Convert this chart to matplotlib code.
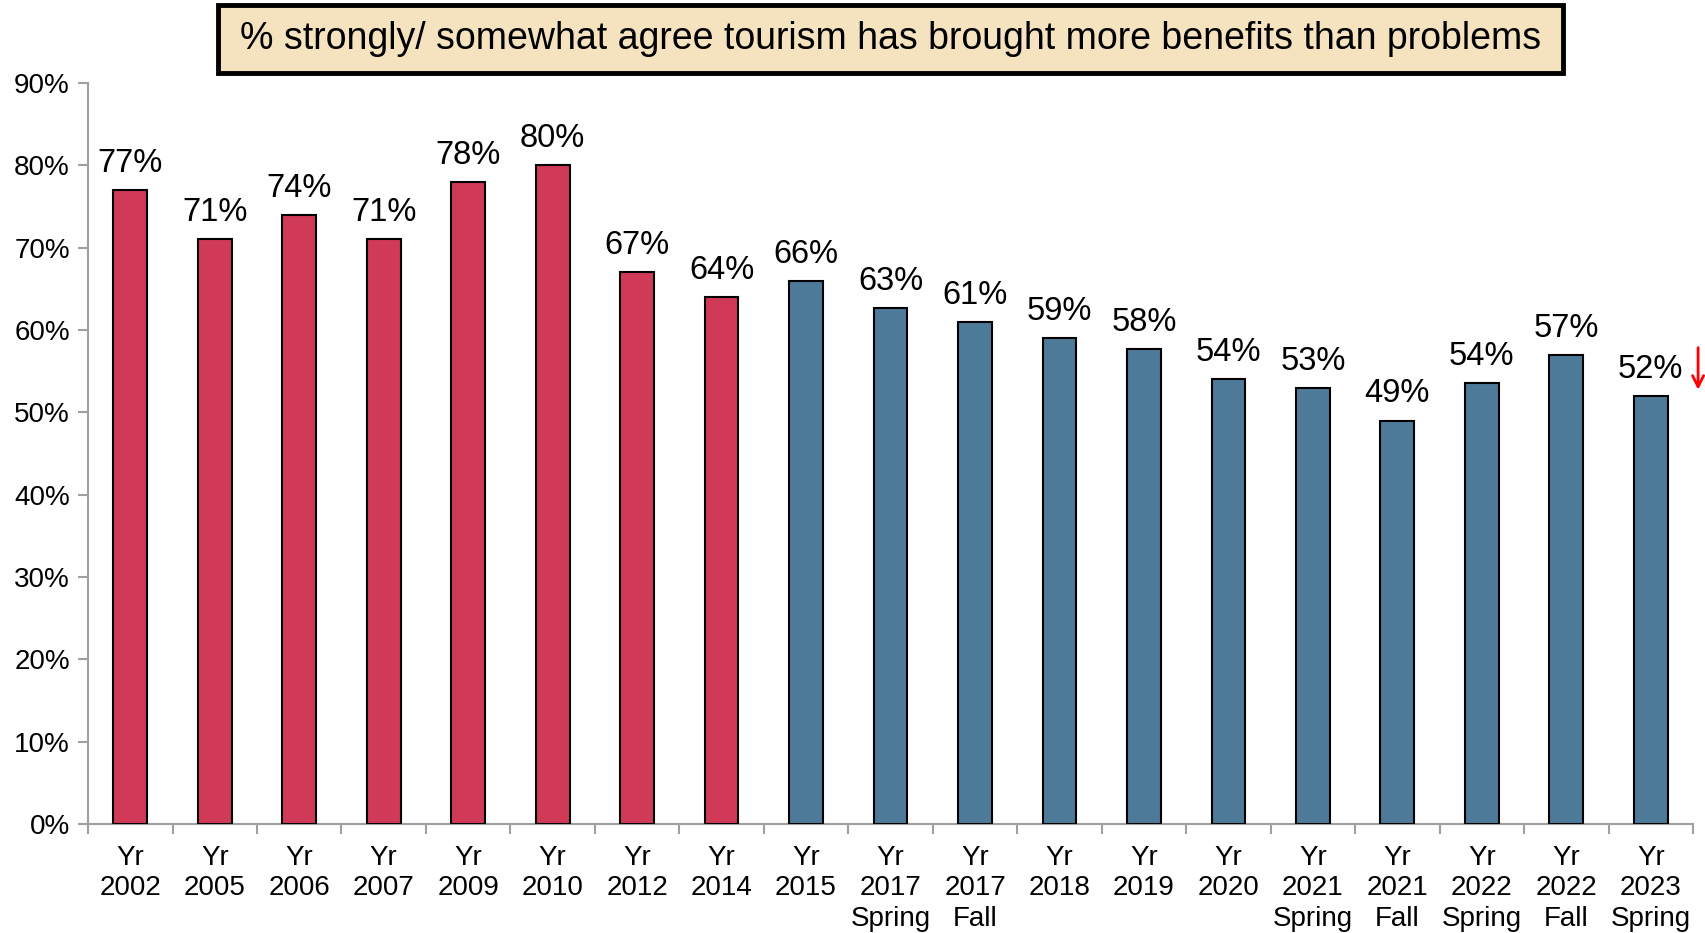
import numpy as np
import matplotlib as mpl
import matplotlib.pyplot as plt
from matplotlib.ticker import FuncFormatter, FixedLocator
from matplotlib.patches import Rectangle

mpl.use('Agg')
mpl.rcParams['font.family'] = ['Liberation Sans', 'DejaVu Sans']

# survey waves, bar heights (%) and printed labels
periods = ['Yr\n2002', 'Yr\n2005', 'Yr\n2006', 'Yr\n2007', 'Yr\n2009', 'Yr\n2010', 'Yr\n2012',
           'Yr\n2014', 'Yr\n2015', 'Yr\n2017\nSpring', 'Yr\n2017\nFall', 'Yr\n2018', 'Yr\n2019',
           'Yr\n2020', 'Yr\n2021\nSpring', 'Yr\n2021\nFall', 'Yr\n2022\nSpring', 'Yr\n2022\nFall',
           'Yr\n2023\nSpring']
values = [77, 71, 74, 71, 78, 80, 67, 64, 66, 62.7, 61, 59, 57.7, 54, 53, 49, 53.6, 57, 52]
labels = ['77%', '71%', '74%', '71%', '78%', '80%', '67%', '64%', '66%', '63%', '61%', '59%',
          '58%', '54%', '53%', '49%', '54%', '57%', '52%']
n_early = 8  # first waves drawn in red

RED = '#D03A56'
BLUE = '#4D7A99'
GREY = '#A0A0A0'

title = '% strongly/ somewhat agree tourism has brought more benefits than problems'


def pct(x, pos):
    return '{:.0f}%'.format(x)


def main():
    fig = plt.figure(figsize=(17.06, 9.33), dpi=100)
    ax = fig.add_axes([0.0516, 0.1168, 0.9408, 0.7942])

    x = np.arange(len(values))
    colors = [RED if i < n_early else BLUE for i in range(len(values))]
    ax.bar(x, values, width=0.4, color=colors, edgecolor='black', linewidth=1.5, zorder=3)

    for xi, v, lab in zip(x, values, labels):
        ax.annotate(lab, (xi, v), xytext=(0, 8), textcoords='offset points',
                    ha='center', va='bottom', fontsize=23.5)

    # red down arrow beside the latest wave
    ax.annotate('', xy=(x[-1] + 0.56, values[-1] + 0.4), xytext=(x[-1] + 0.56, values[-1] + 6.2),
                arrowprops=dict(arrowstyle='->,head_length=0.8,head_width=0.4', color='red', lw=2),
                annotation_clip=False)

    ax.set_xlim(-0.5, len(values) - 0.5)
    ax.set_ylim(0, 90)
    ax.set_yticks(np.arange(0, 91, 10))
    ax.yaxis.set_major_formatter(FuncFormatter(pct))

    ax.set_xticks(x)
    ax.set_xticklabels(periods, fontsize=20, linespacing=1.22)
    ax.xaxis.set_minor_locator(FixedLocator(np.arange(-0.5, len(values), 1.0)))
    ax.tick_params(axis='x', which='major', length=0, pad=15)
    ax.tick_params(axis='x', which='minor', length=7, width=1.5, color=GREY, direction='out')
    ax.tick_params(axis='y', length=7, width=1.5, color=GREY, labelsize=20, pad=6)

    for s in ['top', 'right']:
        ax.spines[s].set_visible(False)
    for s in ['left', 'bottom']:
        ax.spines[s].set_color(GREY)
        ax.spines[s].set_linewidth(1.5)

    # title box
    box = Rectangle((0.1276, 0.9219), 0.7888, 0.0723, transform=fig.transFigure,
                    facecolor='#F5E3C0', edgecolor='black', linewidth=3.5)
    fig.patches.append(box)
    fig.text(0.5220, 0.9580, title, ha='center', va='center', fontsize=27)

    fig.savefig('out.png', dpi=100)
    plt.close(fig)


if __name__ == '__main__':
    main()
